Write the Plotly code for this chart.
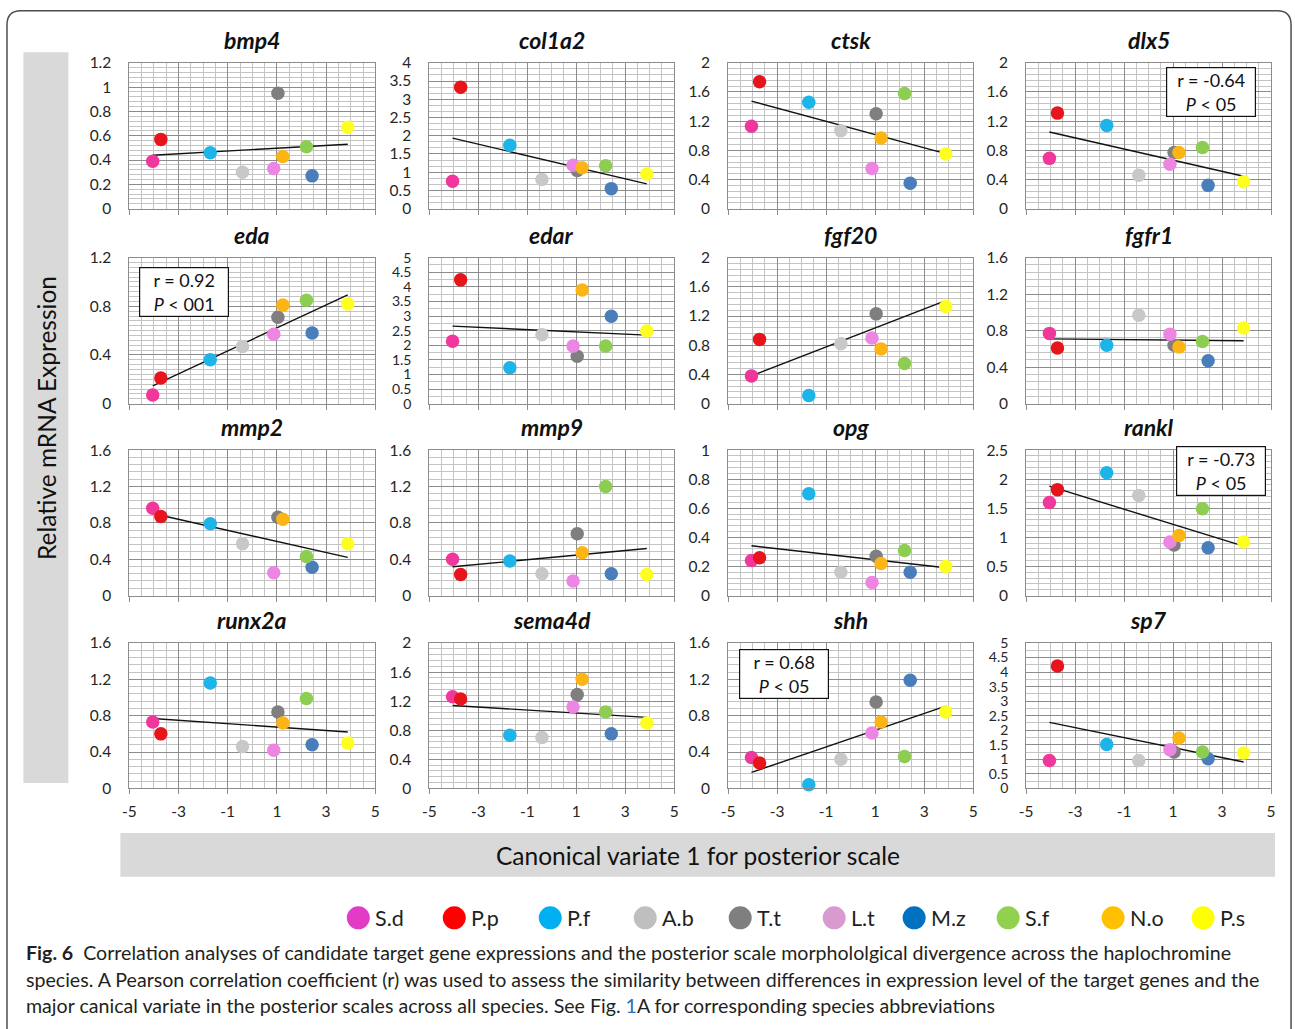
import numpy as np
import plotly.graph_objects as go

W, H = 1295, 1029
# measured mapping between page pixels and the photographed picture
SX, OX = 0.991, 8.6
SY, OY = 0.983, 9.7

# ---------------- data ----------------
species = ["S.d", "P.p", "P.f", "A.b", "T.t", "L.t", "M.z", "S.f", "N.o", "P.s"]
cv1 = [-4.05, -3.72, -1.71, -0.40, 1.04, 0.87, 2.43, 2.20, 1.24, 3.88]

genes = ["bmp4", "col1a2", "ctsk", "dlx5",
         "eda", "edar", "fgf20", "fgfr1",
         "mmp2", "mmp9", "opg", "rankl",
         "runx2a", "sema4d", "shh", "sp7"]

bmp4   = [0.39, 0.57, 0.46, 0.30, 0.95, 0.33, 0.27, 0.51, 0.43, 0.67]
col1a2 = [0.75, 3.33, 1.74, 0.80, 1.05, 1.19, 0.55, 1.18, 1.12, 0.95]
ctsk   = [1.13, 1.74, 1.46, 1.07, 1.30, 0.55, 0.35, 1.58, 0.97, 0.75]
dlx5   = [0.69, 1.31, 1.14, 0.46, 0.77, 0.61, 0.32, 0.84, 0.77, 0.37]
eda    = [0.07, 0.21, 0.36, 0.47, 0.71, 0.57, 0.58, 0.85, 0.81, 0.82]
edar   = [2.14, 4.24, 1.23, 2.36, 1.62, 1.97, 2.99, 1.97, 3.89, 2.49]
fgf20  = [0.38, 0.88, 0.11, 0.82, 1.23, 0.90, 2.35, 0.55, 0.75, 1.33]   # M.z lies above the axis maximum
fgfr1  = [0.77, 0.61, 0.64, 0.97, 0.64, 0.76, 0.47, 0.68, 0.62, 0.83]
mmp2   = [0.96, 0.87, 0.79, 0.57, 0.86, 0.25, 0.31, 0.43, 0.84, 0.57]
mmp9   = [0.40, 0.23, 0.38, 0.24, 0.68, 0.16, 0.24, 1.20, 0.47, 0.23]
opg    = [0.24, 0.26, 0.70, 0.16, 0.27, 0.09, 0.16, 0.31, 0.22, 0.20]
rankl  = [1.60, 1.82, 2.11, 1.72, 0.87, 0.92, 0.82, 1.49, 1.03, 0.92]
runx2a = [0.73, 0.60, 1.16, 0.46, 0.84, 0.42, 0.48, 0.99, 0.72, 0.50]
sema4d = [1.26, 1.23, 0.73, 0.70, 1.29, 1.12, 0.75, 1.05, 1.50, 0.90]
shh    = [0.34, 0.28, 0.04, 0.32, 0.95, 0.61, 1.19, 0.35, 0.73, 0.84]
sp7    = [0.96, 4.21, 1.51, 0.96, 1.25, 1.33, 1.02, 1.25, 1.73, 1.22]

values = [bmp4, col1a2, ctsk, dlx5, eda, edar, fgf20, fgfr1,
          mmp2, mmp9, opg, rankl, runx2a, sema4d, shh, sp7]

y_max   = [1.2, 4, 2, 2, 1.2, 5, 2, 1.6, 1.6, 1.6, 1, 2.5, 1.6, 2, 1.6, 5]
y_major = [0.2, 0.5, 0.4, 0.4, 0.4, 0.5, 0.4, 0.4, 0.4, 0.4, 0.2, 0.5, 0.4, 0.4, 0.4, 0.5]
y_minor = [0.04, 1 / 6, 0.08, 0.08, 0.04, 0.25, 0.08, 0.08, 0.08, 0.08, 0.04, 0.1, 0.08, 0.08, 0.08, 0.25]

x_ticks = [-5, -3, -1, 1, 3, 5]
x_ticktext = [str(t) for t in x_ticks]

# correlation notes: gene -> (r, P)
stats = {"dlx5": ("-0.64", "05"), "eda": ("0.92", "001"),
         "rankl": ("-0.73", "05"), "shh": ("0.68", "05")}

point_colors = ["#F0389C", "#E8141B", "#1DB4EA", "#C8C8C8", "#7F7F7F",
                "#EC86E2", "#4A7EBB", "#8CCD52", "#FDB515", "#FFFF1F"]
legend_colors = ["#E23BC5", "#FF0000", "#00B0F0", "#BFBFBF", "#7F7F7F",
                 "#D99AD0", "#0070C0", "#92D050", "#FFC000", "#FFFF00"]

# ---------------- layout geometry (target picture pixels) ----------------
col_px = [(131, 377), (431, 676), (730, 975), (1028, 1273)]
row_px = [(62.5, 208.5), (257.5, 403.5), (450, 595.5), (643, 788.5)]


def px(x):
    return ((x - OX) / SX) / W


def py(y):
    return 1 - ((y - OY) / SY) / H


FONT = "Lato, Carlito, Calibri, sans-serif"
MAJOR = "#8C8C8C"
MINOR = "#C4C4C4"

fig = go.Figure()
annotations = []
shapes = []

for i, g in enumerate(genes):
    r, c = divmod(i, 4)
    n = i + 1
    xa = "x" if n == 1 else f"x{n}"
    ya = "y" if n == 1 else f"y{n}"
    xs = list(cv1)
    ys = list(values[i])

    # trendline (least squares over all species)
    k, b = np.polyfit(xs, ys, 1)
    xl = np.array([min(xs), max(xs)])
    fig.add_trace(go.Scatter(x=xl, y=k * xl + b, mode="lines",
                             line=dict(color="#111111", width=1.4),
                             xaxis=xa, yaxis=ya, showlegend=False,
                             hoverinfo="skip"))
    # points inside the axis range are drawn
    vis = [j for j, v in enumerate(ys) if v <= y_max[i]]
    fig.add_trace(go.Scatter(x=[xs[j] for j in vis], y=[ys[j] for j in vis],
                             mode="markers",
                             marker=dict(color=[point_colors[j] for j in vis], size=13.5,
                                         line=dict(width=0)),
                             text=[species[j] for j in vis],
                             xaxis=xa, yaxis=ya, showlegend=False,
                             cliponaxis=False))

    x0, x1 = col_px[c]
    y0, y1 = row_px[r]
    xkey = "xaxis" if n == 1 else f"xaxis{n}"
    ykey = "yaxis" if n == 1 else f"yaxis{n}"
    dense = (y_max[i] / y_major[i]) > 8
    fig.layout[xkey] = dict(
        domain=[px(x0), px(x1)], anchor=ya, range=[-5, 5],
        tickmode="array", tickvals=x_ticks, ticktext=x_ticktext,
        showticklabels=(r == 3), ticks="outside", ticklen=5, tickcolor=MAJOR,
        ticklabelstandoff=4,
        showgrid=True, gridcolor=MAJOR, gridwidth=1,
        minor=dict(dtick=0.5, tick0=-5, showgrid=True, gridcolor=MINOR, gridwidth=1),
        showline=True, linecolor=MAJOR, linewidth=1, mirror=True,
        zeroline=False, fixedrange=True,
        tickfont=dict(family=FONT, size=15.5, color="#262626"),
    )
    fig.layout[ykey] = dict(
        domain=[py(y1), py(y0)], anchor=xa, range=[0, y_max[i]],
        dtick=y_major[i], tick0=0, ticks="",
        showgrid=True, gridcolor=MAJOR, gridwidth=1,
        minor=dict(dtick=y_minor[i], tick0=0, showgrid=True, gridcolor=MINOR, gridwidth=1),
        showline=True, linecolor=MAJOR, linewidth=1, mirror=True,
        zeroline=False, fixedrange=True, ticklabelstandoff=14,
        tickfont=dict(family=FONT, size=14 if dense else 15.5, color="#262626"),
    )
    annotations.append(dict(
        text=f"<b><i>{g}</i></b>", xref="paper", yref="paper",
        x=px((x0 + x1) / 2), y=py(y0 - 23), xanchor="center", yanchor="middle",
        showarrow=False, font=dict(family=FONT, size=23, color="#111111")))

# stat boxes
box_pos = {"dlx5": (1213, 92), "eda": (186, 292), "rankl": (1223, 471), "shh": (786, 674)}
for g, (rv, pv) in stats.items():
    cx, cy = box_pos[g]
    annotations.append(dict(
        text=f"r = {rv}<br><i>P</i> < {pv}", xref="paper", yref="paper",
        x=px(cx), y=py(cy), xanchor="center", yanchor="middle", showarrow=False,
        align="center", bgcolor="white", bordercolor="#111111", borderwidth=1.2,
        borderpad=4, width=80, height=40,
        font=dict(family=FONT, size=18, color="#111111")))

# axis title boxes
shapes.append(dict(type="rect", xref="paper", yref="paper", x0=px(25), x1=px(70),
                   y0=py(783), y1=py(52), fillcolor="#D9D9D9", line=dict(width=0),
                   layer="below"))
shapes.append(dict(type="rect", xref="paper", yref="paper", x0=px(122), x1=px(1277),
                   y0=py(877), y1=py(833), fillcolor="#D9D9D9", line=dict(width=0),
                   layer="below"))
annotations.append(dict(text="Relative mRNA Expression", xref="paper", yref="paper",
                        x=px(47.5), y=py(418), textangle=-90, showarrow=False,
                        xanchor="center", yanchor="middle",
                        font=dict(family=FONT, size=24.5, color="#111111")))
annotations.append(dict(text="Canonical variate 1 for posterior scale", xref="paper",
                        yref="paper", x=px(700), y=py(856), showarrow=False,
                        xanchor="center", yanchor="middle",
                        font=dict(family=FONT, size=24.5, color="#111111")))

# legend (drawn)
leg_cx = [360, 456, 552, 647, 742, 836, 916, 1010, 1115, 1205]
leg_y = 918
rad = 11.5
for sp, cx, colr in zip(species, leg_cx, legend_colors):
    shapes.append(dict(type="circle", xref="paper", yref="paper",
                       x0=px(cx - rad), x1=px(cx + rad), y0=py(leg_y + rad), y1=py(leg_y - rad),
                       fillcolor=colr, line=dict(width=0)))
    annotations.append(dict(text=sp, xref="paper", yref="paper", x=px(cx + 15), y=py(leg_y),
                            xanchor="left", yanchor="middle", showarrow=False,
                            font=dict(family=FONT, size=21.5, color="#231F20")))

# caption
cap = [
    "<b>Fig. 6</b>  Correlation analyses of candidate target gene expressions and the posterior scale morphololgical divergence across the haplochromine",
    "species. A Pearson correlation coefficient (r) was used to assess the similarity between differences in expression level of the target genes and the",
    "major canical variate in the posterior scales across all species. See Fig. <span style='color:#2A6EBB'>1</span>A for corresponding species abbreviations",
]
for j, line in enumerate(cap):
    annotations.append(dict(text=line, xref="paper", yref="paper", x=px(26), y=py(953 + 26.5 * j),
                            xanchor="left", yanchor="middle", showarrow=False,
                            font=dict(family=FONT, size=19.6, color="#231F20")))

# outer rounded frame
R = 14
L, T, Rt, B = 8.6, 10.5, 1293, 1045
path = (f"M {px(L)},{py(B)} L {px(L)},{py(T + R)} Q {px(L)},{py(T)} {px(L + R)},{py(T)} "
        f"L {px(Rt - R)},{py(T)} Q {px(Rt)},{py(T)} {px(Rt)},{py(T + R)} L {px(Rt)},{py(B)}")
shapes.append(dict(type="path", xref="paper", yref="paper", path=path,
                   line=dict(color="#4D4D4D", width=1.5)))

fig.update_layout(width=W, height=H, margin=dict(l=0, r=0, t=0, b=0),
                  paper_bgcolor="white", plot_bgcolor="white",
                  showlegend=False, annotations=annotations, shapes=shapes,
                  font=dict(family=FONT))

fig.write_html("out.html", config={"displayModeBar": False},
               post_script="document.body.style.margin='0';")
